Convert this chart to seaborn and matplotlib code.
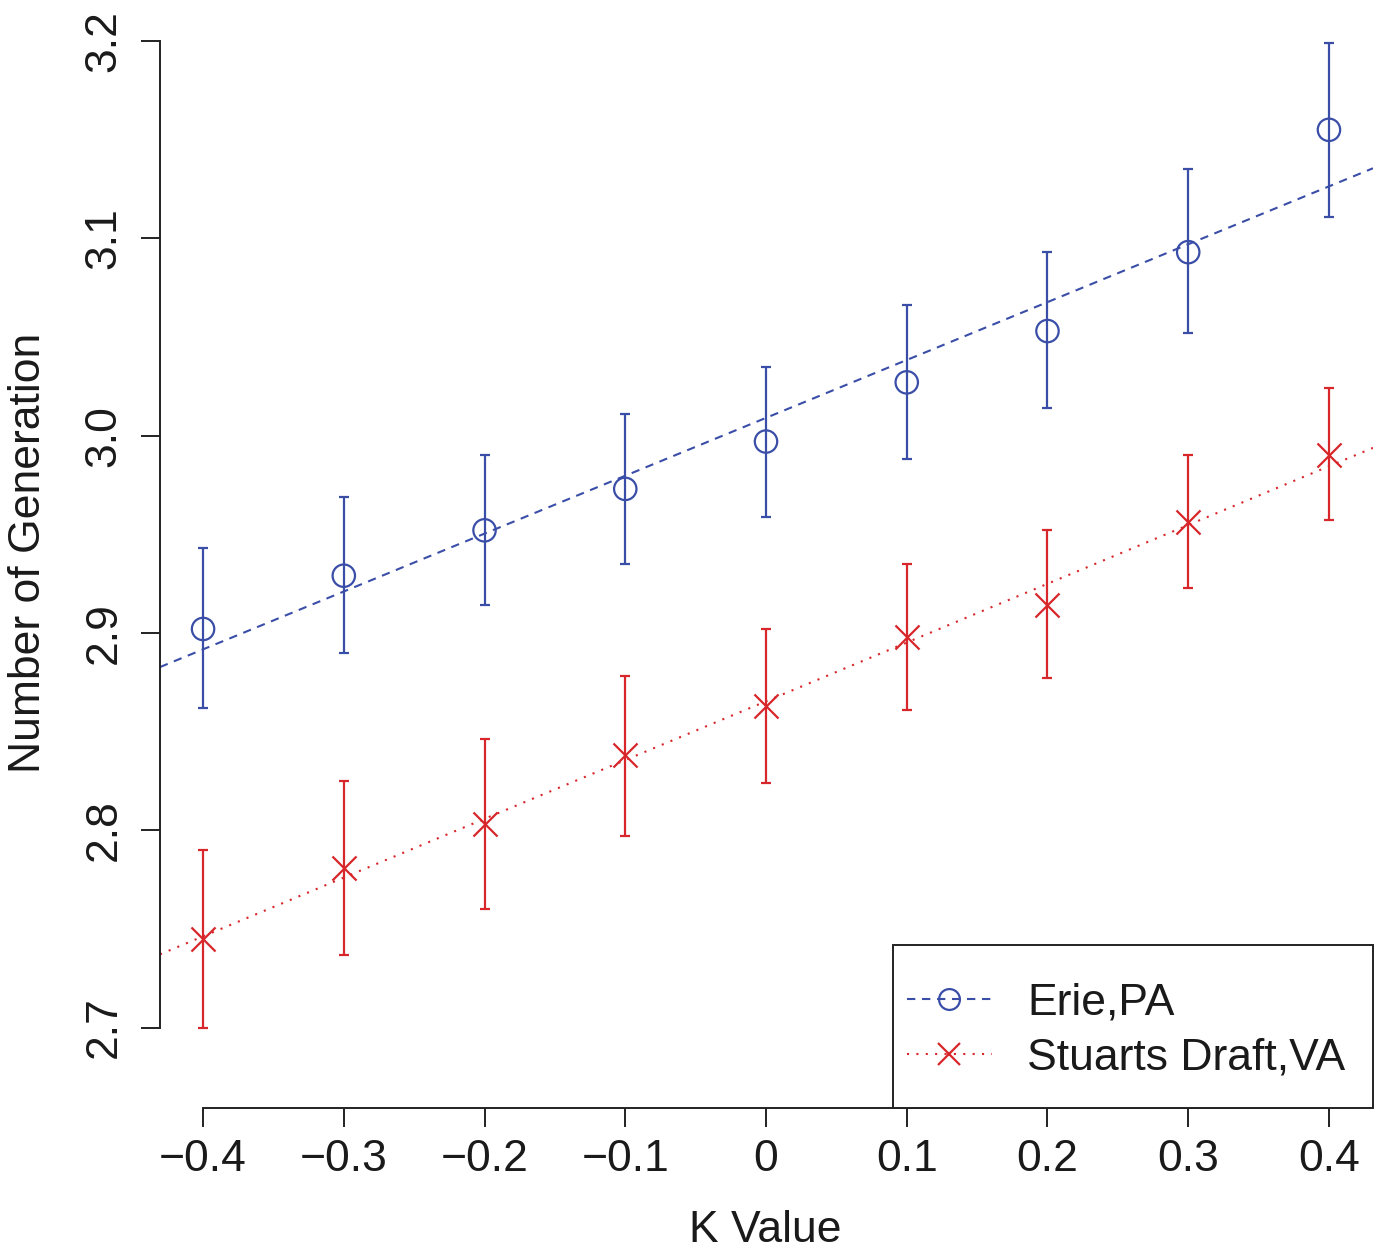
import matplotlib
matplotlib.use("Agg")
import matplotlib.pyplot as plt
from matplotlib.lines import Line2D
from matplotlib.patches import Rectangle
import seaborn as sns
import numpy as np

# data
k_values = [-0.4, -0.3, -0.2, -0.1, 0.0, 0.1, 0.2, 0.3, 0.4]
k_labels = ["\u22120.4", "\u22120.3", "\u22120.2", "\u22120.1", "0", "0.1", "0.2", "0.3", "0.4"]

erie_mean = [2.902, 2.929, 2.952, 2.973, 2.997, 3.027, 3.053, 3.093, 3.155]
erie_low = [2.862, 2.890, 2.914, 2.935, 2.959, 2.988, 3.014, 3.052, 3.111]
erie_high = [2.943, 2.969, 2.990, 3.011, 3.035, 3.066, 3.093, 3.135, 3.199]

stuarts_mean = [2.745, 2.781, 2.803, 2.838, 2.863, 2.898, 2.914, 2.956, 2.990]
stuarts_low = [2.6995, 2.737, 2.760, 2.797, 2.824, 2.861, 2.877, 2.923, 2.957]
stuarts_high = [2.790, 2.825, 2.846, 2.878, 2.902, 2.935, 2.952, 2.990, 3.024]

y_ticks = [2.7, 2.8, 2.9, 3.0, 3.1, 3.2]

blue = "#3a4ea8"
red = "#d7272b"
dark = "#222222"

sns.set_theme(style="ticks")
plt.rcParams["font.family"] = ["Liberation Sans", "DejaVu Sans"]

fig = plt.figure(figsize=(13.75, 12.49), dpi=100)
ax = fig.add_axes([160 / 1375, 1 - 1108 / 1249, 1213 / 1375, 1108 / 1249])

xlim = (-0.4306, 0.4313)
ylim = (2.6592, 3.2208)

# regression lines across the whole plot region
xs = np.array(xlim)
for mean, col, ls in [(erie_mean, blue, (0, (4, 3.2))), (stuarts_mean, red, (0, (1, 3.5)))]:
    slope, icpt = np.polyfit(k_values, mean, 1)
    ax.plot(xs, slope * xs + icpt, color=col, lw=1.5, linestyle=ls, zorder=2)

# error bars
for mean, lo, hi, col in [(erie_mean, erie_low, erie_high, blue),
                          (stuarts_mean, stuarts_low, stuarts_high, red)]:
    m = np.array(mean)
    yerr = [m - np.array(lo), np.array(hi) - m]
    ax.errorbar(k_values, m, yerr=yerr, fmt="none", ecolor=col, elinewidth=1.6,
                capsize=3.5, capthick=1.6, zorder=3)

# markers
sns.scatterplot(x=k_values, y=erie_mean, marker="o", s=260, facecolor="none",
                edgecolor=blue, linewidth=1.6, ax=ax, zorder=4)
sns.scatterplot(x=k_values, y=stuarts_mean, marker="x", s=300, color=red,
                linewidth=1.6, ax=ax, zorder=4)

ax.set_xlim(*xlim)
ax.set_ylim(*ylim)

sns.despine(ax=ax)
ax.spines["left"].set_bounds(2.7, 3.2)
ax.spines["bottom"].set_bounds(-0.4, 0.4)
for side in ["left", "bottom"]:
    ax.spines[side].set_color(dark)
    ax.spines[side].set_linewidth(1.4)

ax.set_xticks(k_values)
ax.set_xticklabels(k_labels)
ax.set_yticks(y_ticks)
ax.set_yticklabels([f"{v:.1f}" for v in y_ticks])
ax.tick_params(axis="both", direction="out", length=13.5, width=1.4, color=dark,
               labelsize=32, labelcolor="#1a1a1a")
ax.tick_params(axis="x", pad=9)
ax.tick_params(axis="y", pad=12)
plt.setp(ax.get_yticklabels(), rotation=90, va="center")

ax.set_xlabel("K Value", fontsize=32, color="#1a1a1a")
ax.set_ylabel("Number of Generation", fontsize=32, color="#1a1a1a")
ax.xaxis.label.set(va="center", ha="center")
ax.yaxis.label.set(va="center", ha="center", rotation_mode="default")
ax.xaxis.set_label_coords(0.4988, -0.1105)
ax.yaxis.set_label_coords(-0.1088, 0.501)

# legend box and entries
ax.add_patch(Rectangle((0.6043, 0.0), 0.3957, 0.1471, transform=ax.transAxes,
                       facecolor="white", edgecolor=dark, lw=1.4, zorder=5, clip_on=False))
handles = [
    Line2D([], [], color=blue, lw=1.5, linestyle=(0, (4, 3.2)), marker="o",
           markersize=15, markerfacecolor="none", markeredgewidth=1.6),
    Line2D([], [], color=red, lw=1.5, linestyle=(0, (1, 3.5)), marker="x",
           markersize=16, markeredgewidth=1.6),
]
leg = ax.legend(handles, ["Erie,PA", "Stuarts Draft,VA"], loc="center",
                bbox_to_anchor=(0.7966, 0.0700), frameon=False, fontsize=32,
                handlelength=1.9, handletextpad=0.8, borderpad=0, labelspacing=0.30,
                numpoints=1)
leg.set_zorder(6)
for t in leg.get_texts():
    t.set_color("#1a1a1a")

fig.savefig("out.png", dpi=100)
